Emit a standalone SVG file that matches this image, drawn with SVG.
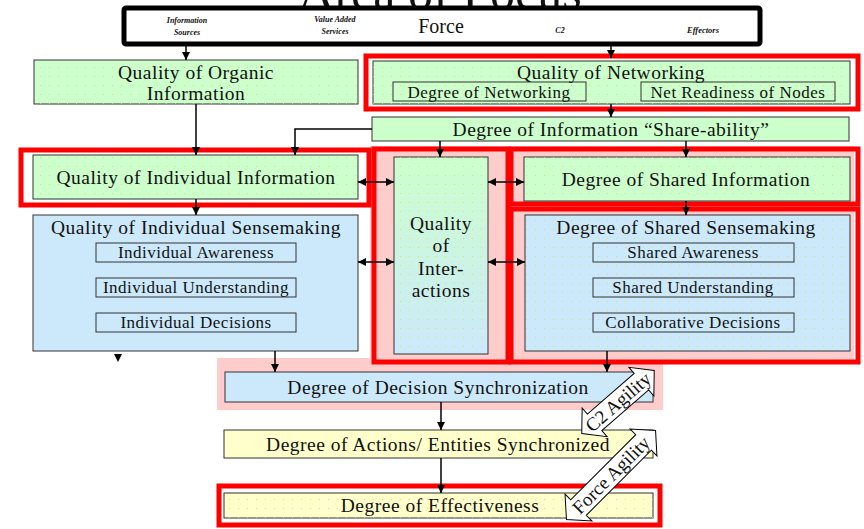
<svg xmlns="http://www.w3.org/2000/svg" width="864" height="529" viewBox="0 0 864 529">
<defs>
<style>
text{font-family:"Liberation Serif","Times New Roman",serif;fill:#111;text-anchor:middle}
.t{font-size:19.5px;letter-spacing:0.5px}
.s{font-size:17px;letter-spacing:0.5px}
.h{font-size:8px;font-weight:bold;font-style:italic}
.box{stroke:#333;stroke-width:1}
.sub{fill:none;stroke:#333;stroke-width:1}
.g{fill:#ccffcc}
.b{fill:#cce9fb}
.y{fill:#ffffcc}
.red{fill:none;stroke:#ff0000;stroke-width:5}
.pink{fill:#ffcccc}
.c{fill:none;stroke:#000;stroke-width:1.5}
.dots{fill:url(#dotp)}
.ba{fill:#fff;stroke:#000;stroke-width:1}
</style>
<marker id="ah" viewBox="0 0 10 10" refX="10" refY="5" markerWidth="8" markerHeight="8" markerUnits="userSpaceOnUse" orient="auto-start-reverse">
<path d="M0,0 L10,5 L0,10 z" fill="#000"/>
</marker>
<pattern id="dotp" width="9" height="9" patternUnits="userSpaceOnUse">
<rect x="4" y="4" width="1" height="1" fill="#e0d850" opacity="0.8"/>
</pattern>
<linearGradient id="gb" x1="0" y1="0" x2="0" y2="1">
<stop offset="0" stop-color="#ccffcc"/>
<stop offset="1" stop-color="#cce9fb"/>
</linearGradient>
<clipPath id="topclip"><rect x="0" y="0" width="864" height="8"/></clipPath>
</defs>

<g clip-path="url(#topclip)">
<text x="440" y="9" style="font-size:50px">Area of Focus</text>
</g>

<g id="background">
<rect class="pink" x="370" y="146" width="484" height="217"/>
<rect class="pink" x="217" y="358" width="446" height="52"/>
</g>

<g id="header">
<rect x="124" y="8" width="636" height="36" rx="2" fill="#fff" stroke="#000" stroke-width="5"/>
<text class="h" x="187" y="23">Information</text>
<text class="h" x="187" y="35">Sources</text>
<text class="h" x="335" y="22">Value Added</text>
<text class="h" x="335" y="34">Services</text>
<text x="441" y="33" style="font-size:20px">Force</text>
<text class="h" x="560" y="33">C2</text>
<text class="h" x="703" y="33" style="font-size:8.5px">Effectors</text>
</g>

<g id="organic">
<rect class="box g" x="34" y="60" width="324" height="44"/>
<rect class="dots" x="34" y="60" width="324" height="44"/>
<text class="t" x="196" y="79">Quality of Organic</text>
<text class="t" x="196" y="100">Information</text>
</g>

<g id="networking">
<rect class="red" x="366" y="56" width="492" height="53"/>
<rect class="box g" x="373" y="61" width="477" height="43"/>
<rect class="dots" x="373" y="61" width="477" height="43"/>
<text class="t" x="611" y="79">Quality of Networking</text>
<rect class="sub" x="393" y="82" width="193" height="19"/>
<text class="s" x="489" y="98">Degree of Networking</text>
<rect class="sub" x="641" y="82" width="194" height="19"/>
<text class="s" x="738" y="98">Net Readiness of Nodes</text>
</g>

<g id="shareability">
<rect class="box g" x="372" y="117" width="477" height="24"/>
<text class="t" x="611" y="136">Degree of Information “Share-ability”</text>
</g>

<g id="indiv-info">
<rect class="red" x="21" y="150" width="348" height="55"/>
<rect class="box g" x="33" y="155" width="325" height="44"/>
<rect class="dots" x="33" y="155" width="325" height="44"/>
<text class="t" x="196" y="184">Quality of Individual Information</text>
</g>

<g id="indiv-sense">
<rect class="box b" x="33" y="215" width="325" height="136"/>
<text class="t" x="196" y="234">Quality of Individual Sensemaking</text>
<rect class="sub" x="96" y="243" width="200" height="19"/>
<text class="s" x="196" y="258">Individual Awareness</text>
<rect class="sub" x="96" y="278" width="200" height="19"/>
<text class="s" x="196" y="293">Individual Understanding</text>
<rect class="sub" x="96" y="313" width="200" height="19"/>
<text class="s" x="196" y="328">Individual Decisions</text>
</g>

<g id="interactions">
<rect class="red" x="374" y="149" width="134" height="213"/>
<rect class="box" fill="url(#gb)" x="394" y="157" width="94" height="197"/>
<rect class="dots" x="394" y="157" width="94" height="197"/>
<text class="t" x="441" y="230">Quality</text>
<text class="t" x="441" y="252">of</text>
<text class="t" x="441" y="275">Inter-</text>
<text class="t" x="441" y="297">actions</text>
</g>

<g id="shared-info">
<rect class="red" x="511" y="149" width="347" height="55"/>
<rect class="box g" x="524" y="157" width="326" height="44"/>
<rect class="dots" x="524" y="157" width="326" height="44"/>
<text class="t" x="686" y="186">Degree of Shared Information</text>
</g>

<g id="shared-sense">
<rect class="red" x="511" y="209" width="347" height="153"/>
<rect class="box b" x="525" y="215" width="325" height="136"/>
<rect class="dots" x="525" y="215" width="325" height="136"/>
<text class="t" x="686" y="234">Degree of Shared Sensemaking</text>
<rect class="sub" x="593" y="243" width="201" height="19"/>
<text class="s" x="693" y="258">Shared Awareness</text>
<rect class="sub" x="593" y="278" width="201" height="19"/>
<text class="s" x="693" y="293">Shared Understanding</text>
<rect class="sub" x="593" y="313" width="201" height="19"/>
<text class="s" x="693" y="328">Collaborative Decisions</text>
</g>

<g id="decision-sync">
<rect class="box b" x="225" y="372" width="428" height="30"/>
<text class="t" x="438" y="394">Degree of Decision Synchronization</text>
</g>

<g id="actions-sync">
<rect class="box y" x="224" y="430" width="429" height="28"/>
<text class="t" x="438" y="451">Degree of Actions/ Entities Synchronized</text>
</g>

<g id="effectiveness">
<rect class="red" x="219" y="486" width="441" height="39"/>
<rect class="box y" x="224" y="493" width="429" height="25"/>
<rect class="dots" x="224" y="493" width="429" height="25"/>
<text class="t" x="440" y="512">Degree of Effectiveness</text>
</g>

<g id="connectors">
<line class="c" x1="186" y1="46" x2="186" y2="60" marker-end="url(#ah)"/>
<line class="c" x1="611" y1="46" x2="611" y2="58" marker-end="url(#ah)"/>
<line class="c" x1="611" y1="104" x2="611" y2="117" marker-end="url(#ah)"/>
<line class="c" x1="196" y1="104" x2="196" y2="155" marker-end="url(#ah)"/>
<polyline class="c" points="372,129 295,129 295,155" marker-end="url(#ah)"/>
<line class="c" x1="440" y1="141" x2="440" y2="157" marker-end="url(#ah)"/>
<line class="c" x1="686" y1="141" x2="686" y2="157" marker-end="url(#ah)"/>
<line class="c" x1="196" y1="199" x2="196" y2="215" marker-end="url(#ah)"/>
<line class="c" x1="686" y1="201" x2="686" y2="215" marker-end="url(#ah)"/>
<line class="c" x1="358" y1="182" x2="394" y2="182" marker-start="url(#ah)" marker-end="url(#ah)"/>
<line class="c" x1="488" y1="182" x2="524" y2="182" marker-start="url(#ah)" marker-end="url(#ah)"/>
<line class="c" x1="358" y1="262" x2="394" y2="262" marker-start="url(#ah)" marker-end="url(#ah)"/>
<line class="c" x1="488" y1="262" x2="525" y2="262" marker-start="url(#ah)" marker-end="url(#ah)"/>
<line class="c" x1="275" y1="351" x2="275" y2="372" marker-end="url(#ah)"/>
<line class="c" x1="607" y1="351" x2="607" y2="372" marker-end="url(#ah)"/>
<line class="c" x1="441" y1="402" x2="441" y2="430" marker-end="url(#ah)"/>
<line class="c" x1="441" y1="458" x2="441" y2="493" marker-end="url(#ah)"/>
<path d="M114,354 L122,354 L118,362 z" fill="#000"/>
</g>

<g id="c2-agility" transform="translate(618,402) rotate(-41)">
<path class="ba" d="M-48,0 L-31,-19 L-31,-11 L31,-11 L31,-19 L48,0 L31,19 L31,11 L-31,11 L-31,19 z"/>
<text x="0" y="6.5" style="font-size:19px">C2 Agility</text>
</g>

<g id="force-agility" transform="translate(611,475) rotate(-45)">
<path class="ba" d="M-63,0 L-46,-19 L-46,-11 L46,-11 L46,-19 L63,0 L46,19 L46,11 L-46,11 L-46,19 z"/>
<text x="0" y="6.5" style="font-size:19px">Force Agility</text>
</g>
</svg>
